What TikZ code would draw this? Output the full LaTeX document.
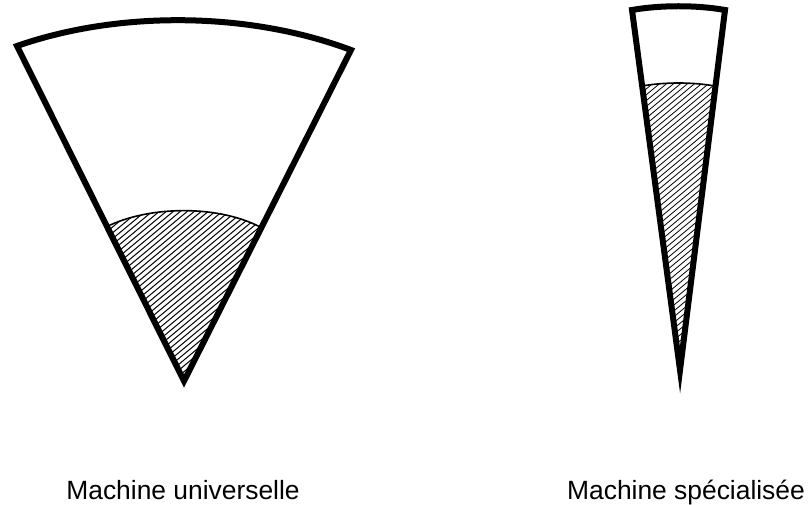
\documentclass[tikz,border=0pt]{standalone}
\usepackage{fontspec}
\setmainfont{Liberation Sans}
\begin{document}
\begin{tikzpicture}[x=1pt,y=-1pt,
  outline/.style={line width=6pt,line join=miter,miter limit=12},
  level/.style={line width=1.6pt},
  hatch/.style={line width=1pt},
  label/.style={anchor=base,font=\fontsize{26.4}{30}\selectfont}]
\useasboundingbox (0,0) rectangle (810,505);
% ---- left sector (universal machine)
\coordinate (LA) at (184,381);
\coordinate (LL) at (17,46);
\coordinate (LR) at (351,50);
\coordinate (LHl) at (106,227);
\coordinate (LHr) at (262,228);
\begin{scope}
  \clip (LHl) .. controls (150,205) and (220,205) .. (LHr) -- (LA) -- cycle;
  \foreach \k in {-420,-413,...,800} \draw[hatch] (\k,420) -- (\k+480,20);
\end{scope}
\draw[level] (LHl) .. controls (150,205) and (220,205) .. (LHr);
\draw[outline] (LA) -- (LL) .. controls (120,10) and (250,12) .. (LR) -- cycle;
% ---- right sector (specialised machine)
\coordinate (RA) at (680,370);
\coordinate (RL) at (632,10);
\coordinate (RR) at (725,10);
\coordinate (RHl) at (642,86);
\coordinate (RHr) at (715,86);
\begin{scope}
  \clip (RHl) .. controls (665,82) and (692,82) .. (RHr) -- (RA) -- cycle;
  \foreach \k in {200,207,...,800} \draw[hatch,line width=0.8pt] (\k,420) -- (\k+480,20);
\end{scope}
\draw[level] (RHl) .. controls (665,82) and (692,82) .. (RHr);
\draw[outline] (RA) -- (RL) .. controls (660,5) and (697,5) .. (RR) -- cycle;
% ---- labels
\node[label] (lu) at (183,499) {Machine universelle};
\node[label] (ls) at (686,499) {Machine spécialisée};
\end{tikzpicture}
\end{document}
